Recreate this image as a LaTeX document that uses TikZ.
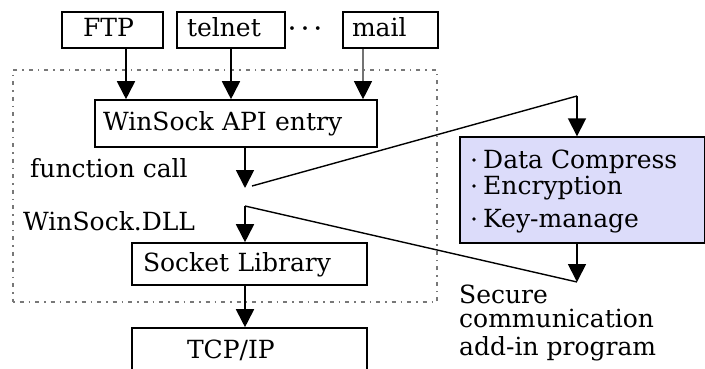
\documentclass[tikz,border=0pt]{standalone}
\usepackage{fontspec}
\setmainfont{DejaVu Serif}
\usetikzlibrary{arrows.meta}
\definecolor{addinfill}{RGB}{220,220,250}
\definecolor{framegrey}{RGB}{120,120,120}
\tikzset{
  every node/.style={font=\fontsize{25}{28}\selectfont},
  box/.style={draw, line width=1.6pt, text height=14pt, text depth=0pt, inner ysep=0pt},
  arr/.style={line width=1.8pt, -{Triangle[width=18pt,length=18pt,color=black]}},
  conn/.style={line width=1.4pt},
  lbl/.style={anchor=base west, inner sep=0pt},
}
\begin{document}
\begin{tikzpicture}[x=1pt,y=-1pt]
\clip (0,0) rectangle (705,369);
\fill[white] (0,0) rectangle (705,369);

% dotted frame around the WinSock.DLL layer
\node[draw=framegrey, line width=1.2pt, dash pattern=on 1.5pt off 5pt on 4pt off 5pt,
      minimum width=424pt, minimum height=232pt, inner sep=0pt] (frame) at (225,186) {};

% application boxes
\node[box, minimum height=36pt, text width=59pt, inner xsep=21pt, align=left] (ftp) at (112.5,30) {FTP};
\node[box, minimum height=36pt, text width=88pt, inner xsep=10pt, align=left] (telnet) at (231,30) {telnet};
\node[box, minimum height=36pt, text width=77pt, inner xsep=9pt, align=left] (mail) at (390.5,30) {mail};
\node[anchor=base, inner sep=0pt, font=\fontsize{20}{20}\selectfont\bfseries] (ellip) at (305,36) {·\hspace{6pt}·\hspace{6pt}·};

% WinSock layer boxes
\node[box, minimum height=47pt, text width=266pt, inner xsep=8pt, align=left] (api) at (236,123.5) {WinSock API entry};
\node[box, minimum height=42pt, text width=213pt, inner xsep=11pt, align=left] (sock) at (249.5,264) {Socket Library};
\node[box, minimum height=46pt, text width=125pt, inner xsep=55pt, align=left] (tcp) at (249.5,351) {TCP/IP};

% layer labels
\node[lbl] (fcl) at (30,177) {function call};
\node[lbl] (dll) at (23,230) {WinSock.DLL};

% add-in program box
\node[draw, line width=1.4pt, fill=addinfill, minimum width=245pt, minimum height=106pt, inner sep=0pt] (addin) at (582.5,190) {};
\node[lbl] (it1) at (483,168) {Data Compress};
\node[lbl] (it2) at (483,194) {Encryption};
\node[lbl] (it3) at (483,227) {Key-manage};
\foreach \i in {it1,it2,it3}
  \fill ([xshift=-9pt,yshift=8pt]\i.base west) circle (1.8pt);

\node[lbl] (sec1) at (459,303) {Secure};
\node[lbl] (sec2) at (459,327) {communication};
\node[lbl] (sec3) at (459,355) {add-in program};

% application arrows
\draw[arr] ([xshift=13.5pt]ftp.south) coordinate (fa) -- (fa |- api.north);
\draw[arr] (telnet.south) -- (telnet.south |- api.north);
\draw[arr, draw=black!55, line width=1.1pt] ([xshift=-27.5pt]mail.south) coordinate (ma) -- (ma |- api.north);

% function call path through the add-in
\coordinate (fcall) at (245,188);
\coordinate (fcout) at (252,186);
\coordinate (bend) at (577,96);
\coordinate (dllin) at (245,206);
\coordinate (back) at (577,282);

\draw[arr] (api.south -| fcall) -- (fcall);
\draw[conn] (fcout) -- (bend);
\draw[arr] (bend) -- (bend |- addin.north);
\draw[conn] (dllin) -- (back);
\draw[arr] (addin.south -| back) -- (back);
\draw[arr] (dllin) -- (dllin |- sock.north);
\draw[arr] (sock.south) ++(-4.5,0) coordinate (sa) -- (sa |- tcp.north);
\end{tikzpicture}
\end{document}
